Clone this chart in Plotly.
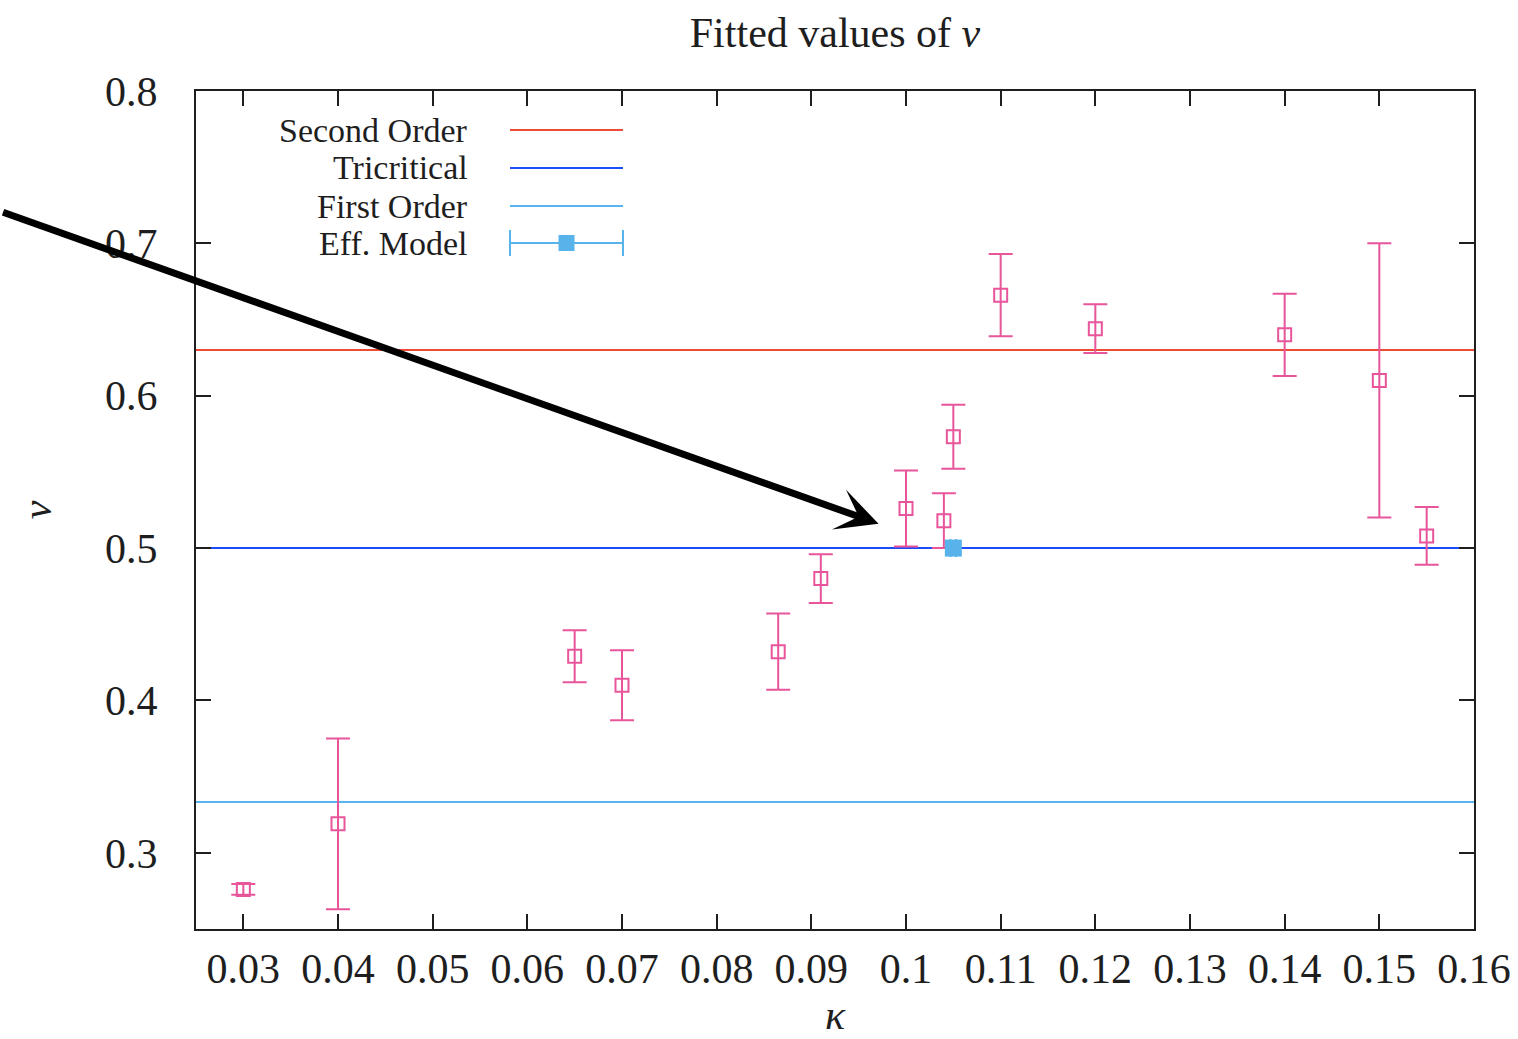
import plotly.graph_objects as go

# Fitted critical exponent nu versus hopping parameter kappa
kappa = [0.03, 0.04, 0.065, 0.07, 0.0865, 0.091, 0.1, 0.104, 0.105, 0.11, 0.12, 0.14, 0.15, 0.155]
nu = [0.276, 0.319, 0.429, 0.410, 0.432, 0.480, 0.526, 0.518, 0.573, 0.666, 0.644, 0.640, 0.610, 0.508]
nu_err = [0.0035, 0.056, 0.017, 0.023, 0.025, 0.016, 0.025, 0.018, 0.021, 0.027, 0.016, 0.027, 0.090, 0.019]

# Effective model estimate
eff_kappa = [0.105]
eff_nu = [0.5]
eff_kappa_err = [0.0003]

# Reference exponents for the different transition types
ref_names = ["Second Order", "Tricritical", "First Order"]
ref_values = [0.63, 0.5, 1 / 3]
ref_colors = ["#ee4b36", "#1c4cf8", "#5ab4ee"]

x_ticks = [0.03, 0.04, 0.05, 0.06, 0.07, 0.08, 0.09, 0.1, 0.11, 0.12, 0.13, 0.14, 0.15, 0.16]
x_tick_text = ["0.03", "0.04", "0.05", "0.06", "0.07", "0.08", "0.09", "0.1",
               "0.11", "0.12", "0.13", "0.14", "0.15", "0.16"]
y_ticks = [0.3, 0.4, 0.5, 0.6, 0.7, 0.8]
y_tick_text = ["0.3", "0.4", "0.5", "0.6", "0.7", "0.8"]
x_range = [0.025, 0.16]
y_range = [0.25, 0.8]

# Arrow pointing at the crossing region
arrow_tip = (0.0971, 0.516)
arrow_offset = (-877, -312)

FONT = "Liberation Serif, Times New Roman, DejaVu Serif, serif"
TEXT = "#1e1e1e"
PINK = "#e8559a"
EFF = "#58b3eb"

fig = go.Figure()

for name, val, col in zip(ref_names, ref_values, ref_colors):
    fig.add_trace(go.Scatter(
        x=x_range, y=[val, val], mode="lines", name=name,
        line=dict(color=col, width=2), showlegend=False, hoverinfo="skip"))

fig.add_trace(go.Scatter(
    x=kappa, y=nu, mode="markers", name="data",
    marker=dict(symbol="square-open", size=13, color=PINK, line=dict(width=2, color=PINK)),
    error_y=dict(type="data", array=nu_err, color=PINK, thickness=2, width=12),
    showlegend=False))

fig.add_trace(go.Scatter(
    x=eff_kappa, y=eff_nu, mode="markers", name="Eff. Model",
    marker=dict(symbol="square", size=17, color=EFF, line=dict(width=0)),
    error_x=dict(type="data", array=eff_kappa_err, color=EFF, thickness=2, width=9),
    showlegend=False))

# Hand-drawn legend: right-aligned labels with swatches on the right
plot_l, plot_r, plot_t, plot_b = 196, 1474, 91, 929
W, H = plot_r - plot_l, plot_b - plot_t


def px(x):
    return (x - plot_l) / W


def py(y):
    return (plot_b - y) / H


legend_labels = ["Second Order", "Tricritical", "First Order", "Eff. Model"]
legend_colors = ref_colors + [EFF]
row_y = [130, 168, 206, 243]
sw_x0, sw_x1, text_x = 510, 623, 470

shapes = []
annotations = []
for lab, yy in zip(legend_labels, row_y):
    annotations.append(dict(
        x=px(text_x), y=py(yy), xref="paper", yref="paper", text=lab,
        showarrow=False, xanchor="right", yanchor="middle",
        font=dict(family=FONT, size=34, color=TEXT)))

for col, yy in zip(legend_colors, row_y):
    shapes.append(dict(type="line", xref="paper", yref="paper",
                       x0=px(sw_x0), x1=px(sw_x1), y0=py(yy), y1=py(yy),
                       line=dict(color=col, width=2)))
# error-bar caps and filled square on the Eff. Model swatch
ey = row_y[-1]
for cx in (sw_x0, sw_x1):
    shapes.append(dict(type="line", xref="paper", yref="paper",
                       x0=px(cx), x1=px(cx), y0=py(ey - 13), y1=py(ey + 13),
                       line=dict(color=EFF, width=2)))
mid = (sw_x0 + sw_x1) / 2
shapes.append(dict(type="rect", xref="paper", yref="paper",
                   x0=px(mid - 8), x1=px(mid + 8), y0=py(ey + 8), y1=py(ey - 8),
                   fillcolor=EFF, line=dict(width=0)))

annotations.append(dict(
    x=arrow_tip[0], y=arrow_tip[1], xref="x", yref="y", text="",
    showarrow=True, ax=arrow_offset[0], ay=arrow_offset[1],
    arrowhead=3, arrowsize=1, arrowwidth=7, arrowcolor="#000000", standoff=0))

axis_common = dict(
    showline=True, linecolor="#1e1e1e", linewidth=2, mirror="ticks",
    ticks="inside", ticklen=15, tickwidth=2, tickcolor="#1e1e1e",
    showgrid=False, zeroline=False, automargin=False,
    tickfont=dict(family=FONT, size=42, color=TEXT))

fig.update_layout(
    width=1518, height=1039,
    margin=dict(l=plot_l, r=1518 - plot_r, t=plot_t, b=1039 - plot_b),
    paper_bgcolor="white", plot_bgcolor="white",
    title=dict(text="Fitted values of <i>ν</i>", x=(plot_l + plot_r) / 2 / 1518,
               xanchor="center", y=1 - 32 / 1039, yanchor="middle", yref="container",
               font=dict(family=FONT, size=42, color=TEXT)),
    xaxis=dict(range=x_range, tickvals=x_ticks, ticktext=x_tick_text,
               ticklabelstandoff=2,
               title=dict(text="<i>κ</i>", standoff=4,
                          font=dict(family=FONT, size=42, color=TEXT)),
               **axis_common),
    yaxis=dict(range=y_range, tickvals=y_ticks, ticktext=y_tick_text,
               ticklabelstandoff=28,
               title=dict(text="<i>ν</i>", standoff=40,
                          font=dict(family=FONT, size=42, color=TEXT)),
               **axis_common),
    shapes=shapes, annotations=annotations,
)

fig.write_html("out.html")
